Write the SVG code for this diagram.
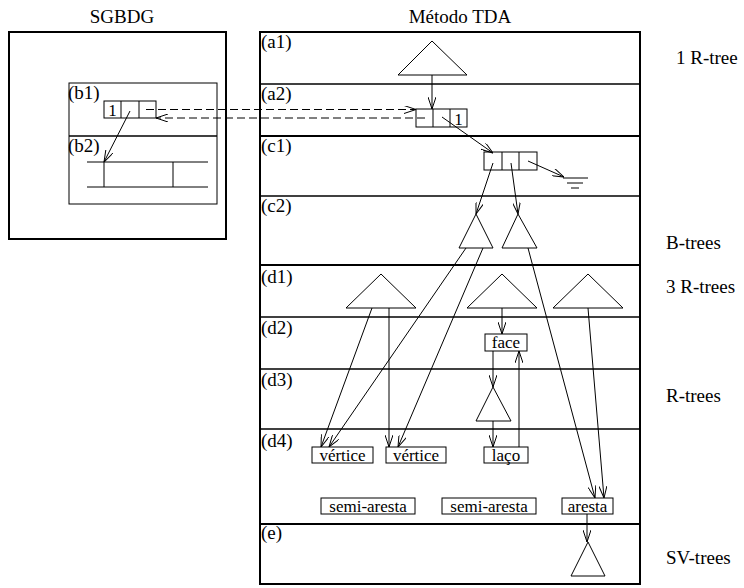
<svg xmlns="http://www.w3.org/2000/svg" width="744" height="588" viewBox="0 0 744 588">
<style>
text{font-family:"Liberation Serif","Times New Roman",serif;fill:#000}
.lbl{font-size:19px}
.bx{font-size:17px}
.t{fill:#fff;stroke:#000;stroke-width:1}
.box{fill:#fff;stroke:#000;stroke-width:1}
.ln{stroke:#000;stroke-width:1;fill:none}
.div{stroke:#000;stroke-width:1.3}
.thick{stroke:#000;stroke-width:2}
.ar{stroke:#000;stroke-width:1;fill:none;marker-end:url(#arr)}
.dash{stroke:#000;stroke-width:1;fill:none;stroke-dasharray:8 4;marker-end:url(#arr)}
</style>
<defs>
<marker id="arr" viewBox="0 0 12 8" refX="12" refY="4" markerWidth="12" markerHeight="8" markerUnits="userSpaceOnUse" orient="auto">
<path d="M0,0 L12,4 L0,8" fill="none" stroke="#000" stroke-width="1"/>
</marker>
</defs>
<rect width="744" height="588" fill="#fff"/>

<g id="titles">
<text class="lbl" x="122" y="23" text-anchor="middle">SGBDG</text>
<text class="lbl" x="460" y="23" text-anchor="middle">Método TDA</text>
</g>

<g id="sgbdg">
<rect x="9" y="32" width="217" height="207" fill="none" class="thick"/>
<rect x="69" y="83" width="148" height="121" fill="none" stroke="#000" stroke-width="1"/>
<line x1="69" y1="136" x2="217" y2="136" class="div"/>
<text class="lbl" x="68" y="99">(b1)</text>
<text class="lbl" x="68" y="152">(b2)</text>
</g>

<g id="b1-record">
<rect x="104" y="101" width="52" height="17" class="box"/>
<line x1="121" y1="101" x2="121" y2="118" class="ln"/>
<line x1="139" y1="101" x2="139" y2="118" class="ln"/>
<text class="bx" x="112.5" y="116" text-anchor="middle">1</text>
</g>

<g id="b2-table">
<line x1="87" y1="162" x2="208" y2="162" class="ln"/>
<line x1="87" y1="187" x2="208" y2="187" class="ln"/>
<line x1="104" y1="162" x2="104" y2="187" class="ln"/>
<line x1="173" y1="162" x2="173" y2="187" class="ln"/>
</g>

<g id="tda">
<rect x="260" y="32" width="380" height="552" fill="none" class="thick"/>
<line x1="260" y1="84" x2="640" y2="84" class="div"/>
<line x1="260" y1="136" x2="640" y2="136" class="thick"/>
<line x1="260" y1="196" x2="640" y2="196" class="div"/>
<line x1="260" y1="265" x2="640" y2="265" class="thick"/>
<line x1="260" y1="317" x2="640" y2="317" class="div"/>
<line x1="260" y1="369" x2="640" y2="369" class="div"/>
<line x1="260" y1="429" x2="640" y2="429" class="div"/>
<line x1="260" y1="524" x2="640" y2="524" class="thick"/>
<text class="lbl" x="261" y="48">(a1)</text>
<text class="lbl" x="261" y="100">(a2)</text>
<text class="lbl" x="261" y="152">(c1)</text>
<text class="lbl" x="261" y="212">(c2)</text>
<text class="lbl" x="261" y="283">(d1)</text>
<text class="lbl" x="261" y="334">(d2)</text>
<text class="lbl" x="261" y="386">(d3)</text>
<text class="lbl" x="261" y="447">(d4)</text>
<text class="lbl" x="261" y="539">(e)</text>
</g>

<g id="side-labels">
<text class="lbl" x="676" y="64">1 R-tree</text>
<text class="lbl" x="666" y="249">B-trees</text>
<text class="lbl" x="666" y="293">3 R-trees</text>
<text class="lbl" x="666" y="402">R-trees</text>
<text class="lbl" x="666" y="564">SV-trees</text>
</g>

<g id="a1-rtree"><polygon points="432,41 398,75 467,75" class="t"/></g>

<g id="a2-record">
<rect x="416" y="109" width="51" height="18" class="box"/>
<line x1="433" y1="109" x2="433" y2="127" class="ln"/>
<line x1="450" y1="109" x2="450" y2="127" class="ln"/>
<text class="bx" x="458.5" y="125" text-anchor="middle">1</text>
</g>

<g id="c1-record">
<rect x="484" y="152" width="53" height="18" class="box"/>
<line x1="502" y1="152" x2="502" y2="170" class="ln"/>
<line x1="519" y1="152" x2="519" y2="170" class="ln"/>
</g>

<g id="ground">
<line x1="563" y1="178" x2="588" y2="178" class="ln"/>
<line x1="567" y1="183" x2="583" y2="183" class="ln"/>
<line x1="571" y1="188" x2="579" y2="188" class="ln"/>
</g>

<g id="c2-btree1"><polygon points="476,214 459,248 493,248" class="t"/></g>
<g id="c2-btree2"><polygon points="518,214 502,248 537,248" class="t"/></g>

<g id="d1-rtree1"><polygon points="381,274 346,308 416,308" class="t"/></g>
<g id="d1-rtree2"><polygon points="502,274 467,308 537,308" class="t"/></g>
<g id="d1-rtree3"><polygon points="588,274 553,308 623,308" class="t"/></g>

<g id="face"><rect x="485" y="334" width="42" height="17" class="box"/><text class="bx" x="506" y="348" text-anchor="middle">face</text></g>
<g id="d3-rtree"><polygon points="493,387 476,421 511,421" class="t"/></g>
<g id="vertice1"><rect x="312" y="447" width="61" height="16" class="box"/><text class="bx" x="342.5" y="461" text-anchor="middle">vértice</text></g>
<g id="vertice2"><rect x="386" y="447" width="60" height="16" class="box"/><text class="bx" x="416" y="461" text-anchor="middle">vértice</text></g>
<g id="laco"><rect x="484" y="447" width="44" height="16" class="box"/><text class="bx" x="506" y="461" text-anchor="middle">laço</text></g>
<g id="semi-aresta1"><rect x="321" y="498" width="94" height="16" class="box"/><text class="bx" x="368" y="512" text-anchor="middle">semi-aresta</text></g>
<g id="semi-aresta2"><rect x="442" y="498" width="94" height="16" class="box"/><text class="bx" x="489" y="512" text-anchor="middle">semi-aresta</text></g>
<g id="aresta"><rect x="562" y="498" width="51" height="16" class="box"/><text class="bx" x="587.5" y="512" text-anchor="middle">aresta</text></g>
<g id="e-svtree"><polygon points="588,542 571,576 605,576" class="t"/></g>

<g id="connectors">
<line x1="130" y1="111" x2="104" y2="162" class="ar"/>
<line x1="146" y1="109.5" x2="416" y2="109.5" class="dash"/>
<line x1="425" y1="118" x2="156" y2="118" class="dash"/>
<line x1="432" y1="75" x2="432" y2="109" class="ar"/>
<line x1="442" y1="117" x2="493" y2="153" class="ar"/>
<line x1="528" y1="161" x2="564" y2="177" class="ar"/>
<line x1="493" y1="163" x2="476" y2="214" class="ar"/>
<line x1="511" y1="163" x2="518" y2="214" class="ar"/>
<line x1="466" y1="248" x2="329" y2="447" class="ar"/>
<line x1="483" y1="248" x2="398" y2="447" class="ar"/>
<line x1="528" y1="248" x2="595" y2="498" class="ar"/>
<line x1="372" y1="308" x2="321" y2="447" class="ar"/>
<line x1="389" y1="308" x2="389" y2="447" class="ar"/>
<line x1="588" y1="308" x2="604" y2="498" class="ar"/>
<line x1="502" y1="308" x2="502" y2="334" class="ar"/>
<line x1="493" y1="351" x2="493" y2="387" class="ar"/>
<line x1="493" y1="421" x2="493" y2="447" class="ar"/>
<line x1="519" y1="447" x2="519" y2="351" class="ar"/>
<line x1="587" y1="514" x2="587" y2="542" class="ar"/>
</g>
</svg>
